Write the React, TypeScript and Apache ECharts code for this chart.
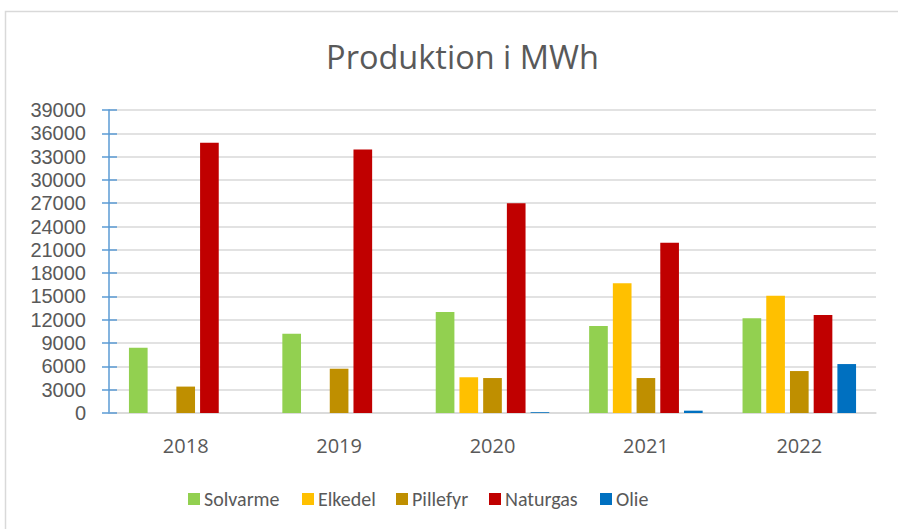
import React, { useEffect, useRef } from "react";
import * as echarts from "echarts";

const categories = ["2018", "2019", "2020", "2021", "2022"];
const solvarme = [8400, 10200, 13000, 11200, 12200];
const elkedel = [0, 0, 4600, 16700, 15100];
const pillefyr = [3400, 5700, 4500, 4500, 5400];
const naturgas = [34800, 33900, 27000, 21900, 12600];
const olie = [0, 0, 100, 300, 6300];
const seriesNames = ["Solvarme", "Elkedel", "Pillefyr", "Naturgas", "Olie"];
const seriesColors = ["#92D050", "#FFC000", "#BF8F00", "#C00000", "#0070C0"];
const legendLefts = [183, 297, 391, 484, 595];

const FONT = "Carlito, Calibri, Lato, sans-serif";
const AXFONT = "'Open Sans', sans-serif";
const YFONT = "'Liberation Sans', Arial, sans-serif";
const TEXT = "#595959";

export default function App() {
  const ref = useRef<HTMLDivElement>(null);
  useEffect(() => {
    const chart = echarts.init(ref.current!, undefined, { renderer: "svg" });
    const values = [solvarme, elkedel, pillefyr, naturgas, olie];
    chart.setOption({
      animation: false,
      backgroundColor: "#ffffff",
      textStyle: { fontFamily: FONT },
      title: {
        text: "Produktion i MWh",
        left: 457.5,
        textAlign: "center",
        top: 35,
        textStyle: { fontFamily: AXFONT, fontSize: 32.5, fontWeight: "normal", color: TEXT },
      },
      graphic: [
        {
          type: "rect",
          shape: { x: 5.5, y: 11.5, width: 1000, height: 1000 },
          style: { fill: "none", stroke: "#d9d9d9", lineWidth: 1.5 },
          silent: true,
        },
      ],
      legend: seriesNames.map((n, i) => ({
        data: [n],
        left: legendLefts[i],
        top: 484,
        itemWidth: 12,
        itemHeight: 12,
        itemGap: 4,
        icon: "rect",
        textStyle: { fontFamily: FONT, fontSize: 20, color: TEXT, padding: [0, 0, 0, -1] },
      })),
      grid: { left: 109, right: 22, top: 110, bottom: 116 },
      xAxis: {
        type: "category",
        data: categories,
        axisLine: { lineStyle: { color: "#d9d9d9", width: 1.5 } },
        axisTick: { show: false },
        axisLabel: { fontFamily: AXFONT, fontSize: 20, lineHeight: 20, color: TEXT, margin: 22 },
      },
      yAxis: [
        {
          type: "value",
          min: 0,
          max: 39000,
          interval: 3000,
          axisLine: { show: true, lineStyle: { color: "#5B9BD5", width: 1.5 } },
          axisTick: { show: true, length: 7, lineStyle: { color: "#5B9BD5", width: 1.5 } },
          axisLabel: {
            fontFamily: YFONT,
            fontSize: 20,
            lineHeight: 20,
            color: TEXT,
            margin: 23,
            formatter: (v: number) => String(v),
          },
          splitLine: { lineStyle: { color: "#d9d9d9", width: 1.5 } },
        },
        {
          type: "value",
          position: "left",
          min: 0,
          max: 39000,
          interval: 3000,
          axisLine: { show: false },
          axisTick: { show: true, inside: true, length: 8, lineStyle: { color: "#5B9BD5", width: 1.5 } },
          axisLabel: { show: false },
          splitLine: { show: false },
        },
      ],
      series: seriesNames.map((n, i) => ({
        name: n,
        type: "bar",
        data: values[i],
        barGap: "27%",
        barCategoryGap: "26%",
        itemStyle: { color: seriesColors[i] },
      })),
    });
    return () => chart.dispose();
  }, []);
  return <div ref={ref} style={{ position: "fixed", left: 0, top: 0, width: 898, height: 529 }} />;
}
